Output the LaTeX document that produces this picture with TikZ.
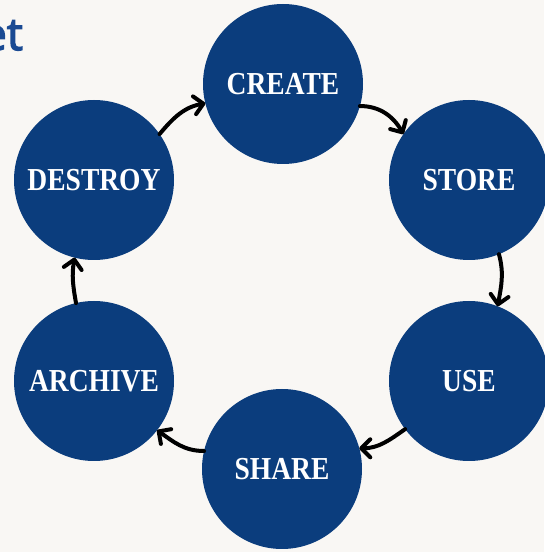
\documentclass[tikz,border=0pt]{standalone}
\usepackage{fontspec}
\newfontfamily\phasefont[FakeStretch=0.86]{Liberation Serif}
\newfontfamily\titlefont[FakeBold=3]{Open Sans}
\usetikzlibrary{arrows.meta}
\definecolor{navy}{HTML}{0B3D7D}
\definecolor{titleblue}{HTML}{1A4A93}
\definecolor{paper}{HTML}{F9F7F4}
\begin{document}
\begin{tikzpicture}[x=1pt,y=1pt,
	phase/.style={circle,fill=navy,minimum size=160pt,inner sep=0pt,outer sep=0pt,text=white,font=\phasefont\bfseries\fontsize{32}{32}\selectfont},
	flow/.style={line width=4pt,line cap=round,-{Straight Barb[length=9pt,width=18pt,round]}}]
	%Hintergrund
	\fill [paper] (0,0) rectangle (544,552);
	\useasboundingbox (0,0) rectangle (544,552);
	\node [anchor=base east,inner sep=0pt,text=titleblue,font=\titlefont\fontsize{45}{45}\selectfont] (title) at (23,502) {et};
	%Phasen
	\node [phase] (create) at (283,468) {CREATE};
	\node [phase] (store) at (469,372) {STORE};
	\node [phase] (use) at (469,171) {USE};
	\node [phase] (share) at (282,83) {SHARE};
	\node [phase] (archive) at (94,171) {ARCHIVE};
	\node [phase] (destroy) at (94,372) {DESTROY};
	%Pfeile
	\draw [flow] (destroy.35) to [out=50,in=190] (create.194);
	\draw [flow] (create.-16) to [out=0,in=120] (store.145);
	\draw [flow] (store.-68) to [out=-75,in=80] (use.69);
	\draw [flow] (use.217) to [out=215,in=0] (share.15);
	\draw [flow] (share.167) to [out=180,in=-35] (archive.-38);
	\draw [flow] (archive.103) to [out=100,in=-100] (destroy.256);
\end{tikzpicture}
\end{document}
